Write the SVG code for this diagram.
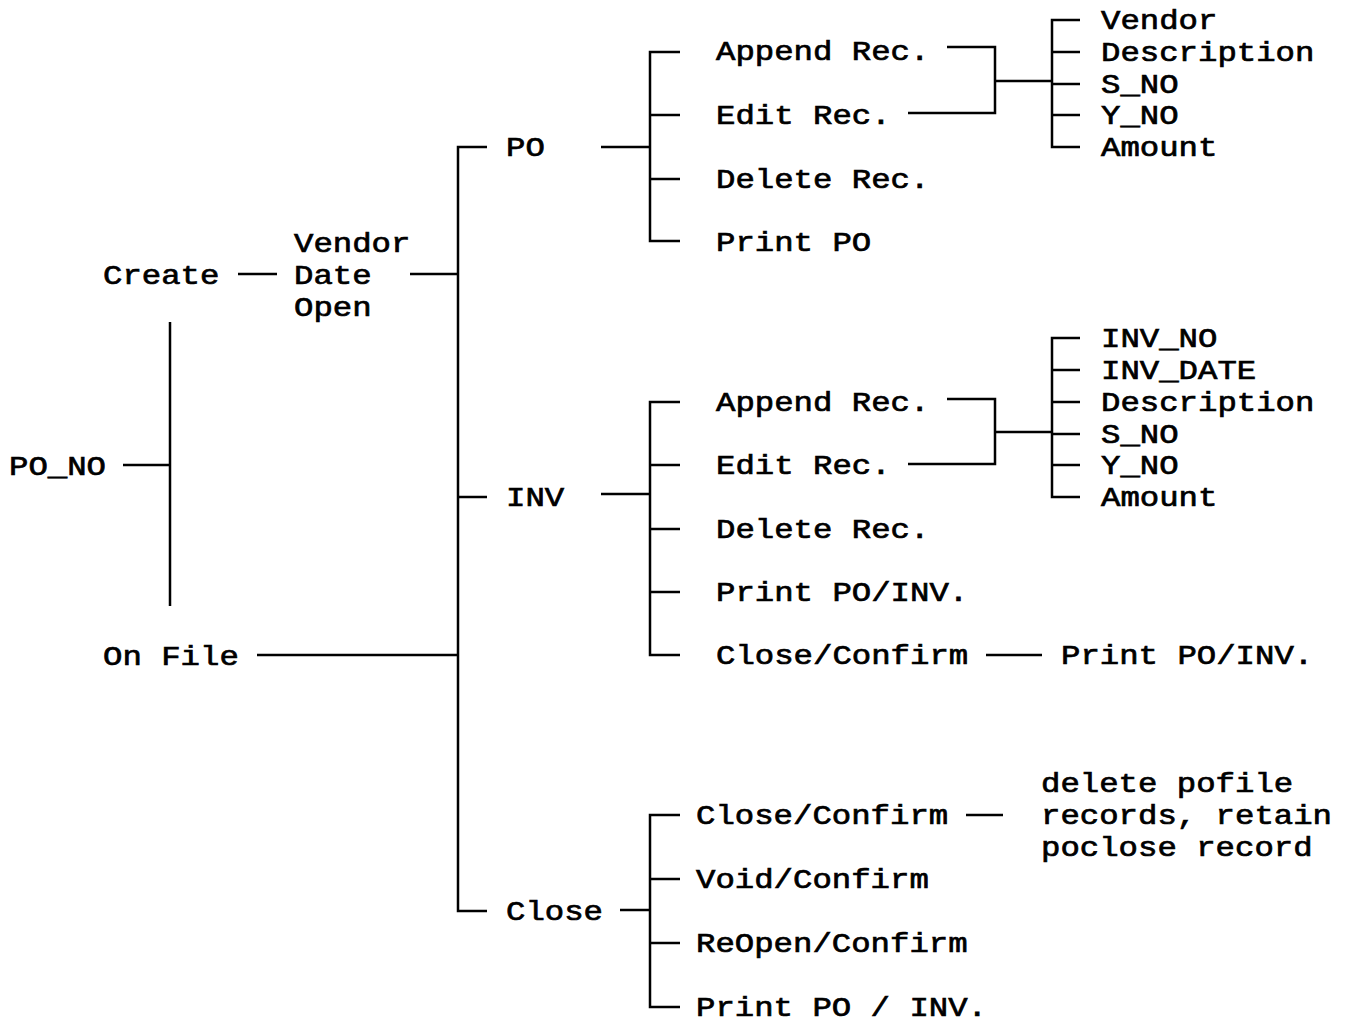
<svg xmlns="http://www.w3.org/2000/svg" width="1346" height="1024" viewBox="0 0 1346 1024">
<style>
text{font-family:"Liberation Mono","DejaVu Sans Mono",monospace;font-size:28px;font-weight:normal;fill:#000;stroke:#000;stroke-width:0.7}
.c line,.c path{stroke:#000;stroke-width:2.5;fill:none}
</style>
<rect width="1346" height="1024" fill="#fff"/>
<g id="connectors" class="c">
<line x1="123" y1="465" x2="170" y2="465"/>
<line x1="170" y1="322" x2="170" y2="606"/>
<line x1="238" y1="274" x2="277" y2="274"/>
<line x1="410" y1="274" x2="458" y2="274"/>
<line x1="257" y1="655" x2="458" y2="655"/>
<path d="M487 147H458V911H487"/>
<line x1="458" y1="497" x2="487" y2="497"/>
<line x1="601" y1="147" x2="650" y2="147"/>
<line x1="601" y1="494" x2="650" y2="494"/>
<line x1="620" y1="910" x2="650" y2="910"/>
<path d="M680 52H650V241H680"/>
<line x1="650" y1="115" x2="680" y2="115"/>
<line x1="650" y1="179" x2="680" y2="179"/>
<path d="M947 47H995V113H908"/>
<line x1="995" y1="81" x2="1052" y2="81"/>
<path d="M1080 20H1052V147H1080"/>
<line x1="1052" y1="52" x2="1080" y2="52"/>
<line x1="1052" y1="84" x2="1080" y2="84"/>
<line x1="1052" y1="115" x2="1080" y2="115"/>
<path d="M680 402H650V655H680"/>
<line x1="650" y1="465" x2="680" y2="465"/>
<line x1="650" y1="529" x2="680" y2="529"/>
<line x1="650" y1="592" x2="680" y2="592"/>
<path d="M947 399H995V464H908"/>
<line x1="995" y1="432" x2="1052" y2="432"/>
<path d="M1080 338H1052V497H1080"/>
<line x1="1052" y1="370" x2="1080" y2="370"/>
<line x1="1052" y1="402" x2="1080" y2="402"/>
<line x1="1052" y1="434" x2="1080" y2="434"/>
<line x1="1052" y1="465" x2="1080" y2="465"/>
<line x1="986" y1="655" x2="1042" y2="655"/>
<path d="M680 815H650V1007H680"/>
<line x1="650" y1="879" x2="680" y2="879"/>
<line x1="650" y1="943" x2="680" y2="943"/>
<line x1="966" y1="815" x2="1003" y2="815"/>
</g>
<g id="po_no"><text x="9" y="475" textLength="97" lengthAdjust="spacingAndGlyphs">PO_NO</text></g>
<g id="create"><text x="103" y="284" textLength="116.4" lengthAdjust="spacingAndGlyphs">Create</text></g>
<g id="vendor_date_open">
<text x="294" y="252" textLength="116.4" lengthAdjust="spacingAndGlyphs">Vendor</text>
<text x="294" y="284" textLength="77.6" lengthAdjust="spacingAndGlyphs">Date</text>
<text x="294" y="316" textLength="77.6" lengthAdjust="spacingAndGlyphs">Open</text>
</g>
<g id="on_file"><text x="103" y="665" textLength="135.8" lengthAdjust="spacingAndGlyphs">On File</text></g>
<g id="po"><text x="506" y="156" textLength="38.8" lengthAdjust="spacingAndGlyphs">PO</text></g>
<g id="inv"><text x="506" y="506" textLength="58.2" lengthAdjust="spacingAndGlyphs">INV</text></g>
<g id="close"><text x="506" y="920" textLength="97" lengthAdjust="spacingAndGlyphs">Close</text></g>
<g id="po_menu">
<text x="716" y="60" textLength="213.4" lengthAdjust="spacingAndGlyphs">Append Rec.</text>
<text x="716" y="124" textLength="174.6" lengthAdjust="spacingAndGlyphs">Edit Rec.</text>
<text x="716" y="188" textLength="213.4" lengthAdjust="spacingAndGlyphs">Delete Rec.</text>
<text x="716" y="251" textLength="155.2" lengthAdjust="spacingAndGlyphs">Print PO</text>
</g>
<g id="po_fields">
<text x="1101" y="29" textLength="116.4" lengthAdjust="spacingAndGlyphs">Vendor</text>
<text x="1101" y="61" textLength="213.4" lengthAdjust="spacingAndGlyphs">Description</text>
<text x="1101" y="93" textLength="77.6" lengthAdjust="spacingAndGlyphs">S_NO</text>
<text x="1101" y="124" textLength="77.6" lengthAdjust="spacingAndGlyphs">Y_NO</text>
<text x="1101" y="156" textLength="116.4" lengthAdjust="spacingAndGlyphs">Amount</text>
</g>
<g id="inv_menu">
<text x="716" y="411" textLength="213.4" lengthAdjust="spacingAndGlyphs">Append Rec.</text>
<text x="716" y="474" textLength="174.6" lengthAdjust="spacingAndGlyphs">Edit Rec.</text>
<text x="716" y="538" textLength="213.4" lengthAdjust="spacingAndGlyphs">Delete Rec.</text>
<text x="716" y="601" textLength="252.2" lengthAdjust="spacingAndGlyphs">Print PO/INV.</text>
<text x="716" y="664" textLength="252.2" lengthAdjust="spacingAndGlyphs">Close/Confirm</text>
</g>
<g id="inv_fields">
<text x="1101" y="347" textLength="116.4" lengthAdjust="spacingAndGlyphs">INV_NO</text>
<text x="1101" y="379" textLength="155.2" lengthAdjust="spacingAndGlyphs">INV_DATE</text>
<text x="1101" y="411" textLength="213.4" lengthAdjust="spacingAndGlyphs">Description</text>
<text x="1101" y="443" textLength="77.6" lengthAdjust="spacingAndGlyphs">S_NO</text>
<text x="1101" y="474" textLength="77.6" lengthAdjust="spacingAndGlyphs">Y_NO</text>
<text x="1101" y="506" textLength="116.4" lengthAdjust="spacingAndGlyphs">Amount</text>
</g>
<g id="inv_print"><text x="1061" y="664" textLength="252.2" lengthAdjust="spacingAndGlyphs">Print PO/INV.</text></g>
<g id="close_menu">
<text x="696" y="824" textLength="252.2" lengthAdjust="spacingAndGlyphs">Close/Confirm</text>
<text x="696" y="888" textLength="232.8" lengthAdjust="spacingAndGlyphs">Void/Confirm</text>
<text x="696" y="952" textLength="271.6" lengthAdjust="spacingAndGlyphs">ReOpen/Confirm</text>
<text x="696" y="1016" textLength="291" lengthAdjust="spacingAndGlyphs">Print PO / INV.</text>
</g>
<g id="close_note">
<text x="1041" y="792" textLength="252.2" lengthAdjust="spacingAndGlyphs">delete pofile</text>
<text x="1041" y="824" textLength="291" lengthAdjust="spacingAndGlyphs">records, retain</text>
<text x="1041" y="856" textLength="271.6" lengthAdjust="spacingAndGlyphs">poclose record</text>
</g>
</svg>
